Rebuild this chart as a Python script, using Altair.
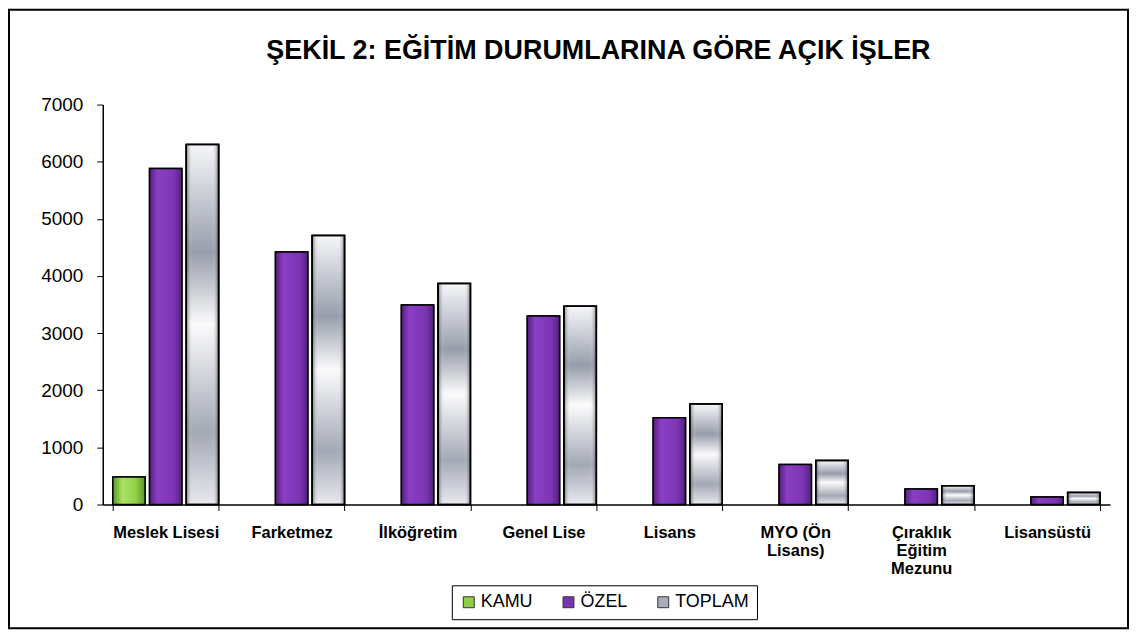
import json
import altair as alt
import pandas as pd

# ---- data ----
categories = ["Meslek Lisesi", "Farketmez", "İlköğretim", "Genel Lise", "Lisans",
              "MYO (Ön Lisans)", "Çıraklık Eğitim Mezunu", "Lisansüstü"]
label_lines = [["Meslek Lisesi"], ["Farketmez"], ["İlköğretim"], ["Genel Lise"], ["Lisans"],
               ["MYO (Ön", "Lisans)"], ["Çıraklık", "Eğitim", "Mezunu"], ["Lisansüstü"]]
series = ["KAMU", "ÖZEL", "TOPLAM"]
kamu = [480, 0, 0, 0, 0, 0, 0, 0]
ozel = [5880, 4420, 3490, 3300, 1520, 700, 270, 130]
toplam = [6300, 4710, 3870, 3470, 1760, 770, 330, 210]
y_ticks = [0, 1000, 2000, 3000, 4000, 5000, 6000, 7000]
title_text = "ŞEKİL 2: EĞİTİM DURUMLARINA GÖRE AÇIK İŞLER"

rows = []
for c, k, o, t in zip(categories, kamu, ozel, toplam):
    rows.append({"category": c, "series": "KAMU", "value": k})
    rows.append({"category": c, "series": "ÖZEL", "value": o})
    rows.append({"category": c, "series": "TOPLAM", "value": t})
df = pd.DataFrame(rows)

FONT = "Liberation Sans"

# multi-line x labels
expr = "datum.label"
for c, lines in reversed(list(zip(categories, label_lines))):
    expr = f"datum.label == {json.dumps(c, ensure_ascii=False)} ? {json.dumps(lines, ensure_ascii=False)} : ({expr})"


def grad_h(stops):
    return alt.Gradient(gradient="linear", x1=0, x2=1, y1=0, y2=0,
                        stops=[alt.GradientStop(color=c, offset=o) for c, o in stops])


def grad_v(stops):
    return alt.Gradient(gradient="linear", x1=0, x2=0, y1=0, y2=1,
                        stops=[alt.GradientStop(color=c, offset=o) for c, o in stops])


fills = {
    "KAMU": [grad_h([("#5a9628", 0), ("#a9e363", 0.3), ("#93d24c", 0.7), ("#5a9628", 1)])],
    "ÖZEL": [grad_h([("#55207f", 0), ("#8a3fc5", 0.25), ("#7c34b4", 0.75), ("#55207f", 1)])],
    "TOPLAM": [
        grad_v([("#f6f7fa", 0), ("#979dab", 0.3), ("#fbfbfc", 0.5), ("#a3a8b5", 0.8), ("#e9eaef", 1)]),
        grad_h([("rgba(40,42,50,0.55)", 0), ("rgba(255,255,255,0)", 0.2),
                ("rgba(255,255,255,0)", 0.8), ("rgba(40,42,50,0.55)", 1)]),
    ],
}

x_enc = alt.X("category:N", sort=categories,
              scale=alt.Scale(domain=categories, paddingInner=0.16, paddingOuter=0.08),
              axis=alt.Axis(title=None, labelAngle=0, labelFont=FONT, labelFontSize=16.5,
                            labelFontWeight="bold", labelColor="black", labelExpr=expr,
                            labelLineHeight=18, labelPadding=14, labelLimit=0,
                            tickBand="extent", tickSize=6, tickColor="black",
                            domainColor="black", domainWidth=1.5))
xo_enc = alt.XOffset("series:N", scale=alt.Scale(domain=series, paddingInner=0.12))
y_enc = alt.Y("value:Q", scale=alt.Scale(domain=[0, 7000], nice=False),
              axis=alt.Axis(title=None, values=y_ticks, format="d", grid=False, labelFont=FONT,
                            labelFontSize=19, labelColor="black", labelPadding=14,
                            tickSize=6, tickColor="black", domainColor="black",
                            domainWidth=1.5))

base = alt.Chart(df).encode(x=x_enc, xOffset=xo_enc, y=y_enc)

bars = base.transform_filter(alt.datum.value > 0).mark_bar(stroke="black", strokeWidth=1.5).encode(
    color=alt.Color("series:N",
                    scale=alt.Scale(domain=series, range=["#8fce45", "#7a33b0", "#a9adb8"]),
                    legend=alt.Legend(title=None, orient="none", legendX=350, legendY=482,
                                      direction="horizontal", symbolType="square",
                                      symbolSize=120, symbolStrokeColor="#333333",
                                      symbolStrokeWidth=1, labelFont=FONT, labelFontSize=18,
                                      labelColor="black", labelOffset=3, columnPadding=26,
                                      strokeColor="black", fillColor="white", padding=8))
)

overlays = []
for s in series:
    for g in fills[s]:
        overlays.append(
            base.transform_filter((alt.datum.series == s) & (alt.datum.value > 0))
            .mark_bar(fill=g, stroke="black", strokeWidth=1.5)
        )

one = pd.DataFrame({"f": [0]})
frame = alt.Chart(one).mark_rect(
    fill="transparent", stroke="black", strokeWidth=2
).encode(x=alt.value(-94), x2=alt.value(1028), y=alt.value(-95), y2=alt.value(525))

title = alt.Chart(one).mark_text(
    text=title_text, font=FONT, fontSize=27, fontWeight="bold", color="black",
    align="center", baseline="alphabetic"
).encode(x=alt.value(497), y=alt.value(-46))

chart = alt.layer(frame, bars, *overlays, title).properties(
    width=1010, height=401, padding=0,
).configure(background="white").configure_view(stroke=None)

chart.save("out.html", embed_options={"renderer": "svg", "actions": False})
